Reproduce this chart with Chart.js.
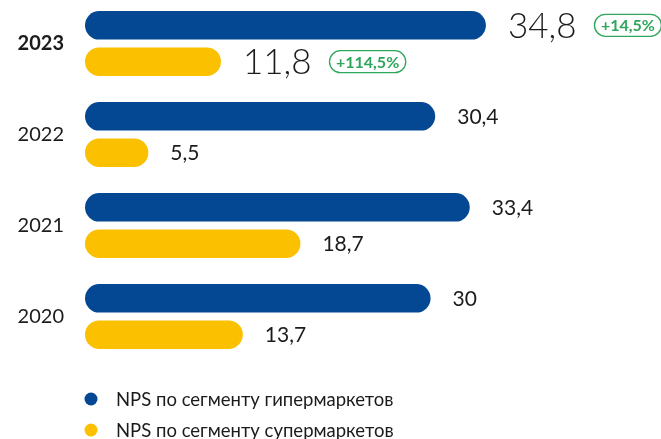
<!DOCTYPE html>
<html>
<head>
<meta charset="utf-8">
<script src="https://cdn.jsdelivr.net/npm/chart.js@4.4.1/dist/chart.umd.min.js"></script>
<style>
  html, body { margin: 0; padding: 0; background: #fff; }
  #wrap { position: relative; width: 661px; height: 439px; overflow: hidden; }
  #npsChart { position: absolute; left: 0; top: -2px; }
</style>
</head>
<body>
<div id="wrap">
  <canvas id="npsChart" width="661" height="441"></canvas>
</div>
<script>
const years = ['2023', '2022', '2021', '2020'];
const hyperNps = [34.8, 30.4, 33.4, 30];
const superNps = [11.8, 5.5, 18.7, 13.7];
const hyperChange = ['+14,5%', null, null, null];
const superChange = ['+114,5%', null, null, null];
const seriesNames = ['NPS по сегменту гипермаркетов', 'NPS по сегменту супермаркетов'];

const BLUE = '#044894';
const YELLOW = '#FBC000';
const GREEN = '#2EA65B';
const TEXT = '#1b1b1b';
const FONT = 'Lato, "Open Sans", sans-serif';

const fmt = v => String(v).replace('.', ',');

// value labels at the end of each bar, with a growth pill for the latest year
const valueLabels = {
  id: 'valueLabels',
  afterDatasetsDraw(chart) {
    const ctx = chart.ctx;
    const changes = [hyperChange, superChange];
    ctx.save();
    ctx.textBaseline = 'middle';
    ctx.textAlign = 'left';
    chart.data.datasets.forEach((ds, di) => {
      const meta = chart.getDatasetMeta(di);
      meta.data.forEach((bar, i) => {
        const big = i === 0;
        const txt = fmt(ds.data[i]);
        ctx.fillStyle = TEXT;
        ctx.font = big ? `300 35px ${FONT}` : `400 21px ${FONT}`;
        const x = bar.x + 22;
        ctx.fillText(txt, x, bar.y + 1);
        const change = changes[di][i];
        if (change) {
          const tw = ctx.measureText(txt).width;
          ctx.font = `700 16px ${FONT}`;
          const cw = ctx.measureText(change).width;
          const bx = x + tw + 18;
          const bw = cw + 13;
          const bh = 22;
          const by = bar.y - bh / 2;
          ctx.beginPath();
          ctx.roundRect(bx, by, bw, bh, bh / 2);
          ctx.fillStyle = '#fff';
          ctx.fill();
          ctx.lineWidth = 1.3;
          ctx.strokeStyle = GREEN;
          ctx.stroke();
          ctx.fillStyle = GREEN;
          ctx.fillText(change, bx + 6.5, bar.y + 1);
        }
      });
    });
    ctx.restore();
  }
};

// legend stacked under the chart
const stackedLegend = {
  id: 'stackedLegend',
  afterDraw(chart) {
    const ctx = chart.ctx;
    ctx.save();
    ctx.textBaseline = 'middle';
    ctx.textAlign = 'left';
    ctx.font = `400 18.5px ${FONT}`;
    chart.data.datasets.forEach((ds, i) => {
      const y = 401 + i * 31;
      ctx.beginPath();
      ctx.arc(91, y, 6.5, 0, Math.PI * 2);
      ctx.fillStyle = ds.backgroundColor;
      ctx.fill();
      ctx.fillStyle = TEXT;
      ctx.fillText(seriesNames[i], 116, y + 1);
    });
    ctx.restore();
  }
};

new Chart(document.getElementById('npsChart'), {
  type: 'bar',
  data: {
    labels: years,
    datasets: [{
      label: seriesNames[0],
      data: hyperNps,
      backgroundColor: BLUE,
      borderRadius: 15,
      borderSkipped: false
    }, {
      label: seriesNames[1],
      data: superNps,
      backgroundColor: YELLOW,
      borderRadius: 15,
      borderSkipped: false
    }]
  },
  options: {
    indexAxis: 'y',
    responsive: false,
    animation: false,
    layout: { padding: { top: 0, right: 0, bottom: 77, left: 0 } },
    plugins: {
      legend: { display: false },
      tooltip: { enabled: false }
    },
    datasets: { bar: { categoryPercentage: 0.8, barPercentage: 0.783 } },
    scales: {
      x: { display: false, min: 0, max: 50 },
      y: {
        afterFit(scale) {
          scale.width = 85;
          scale.paddingTop = 0;
          scale.paddingBottom = 0;
        },
        grid: { display: false, drawTicks: false },
        border: { display: false },
        ticks: {
          padding: 21,
          color: TEXT,
          font: ctx => ctx.index === 0
            ? { family: FONT, size: 20, weight: '700' }
            : { family: FONT, size: 20, weight: '400' }
        }
      }
    }
  },
  plugins: [valueLabels, stackedLegend]
});
</script>
</body>
</html>
